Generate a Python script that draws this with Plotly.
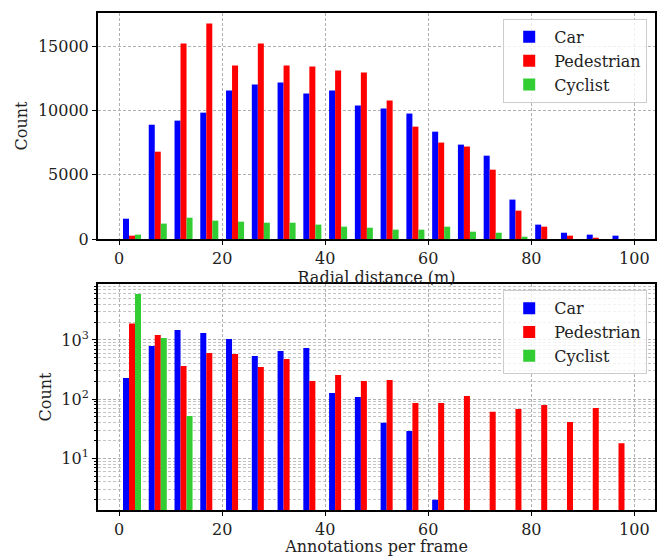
import plotly.graph_objects as go
from plotly.subplots import make_subplots

# Bin centres (bins of width 5 m / 5 annotations)
bins = [2.5, 7.5, 12.5, 17.5, 22.5, 27.5, 32.5, 37.5, 42.5, 47.5,
        52.5, 57.5, 62.5, 67.5, 72.5, 77.5, 82.5, 87.5, 92.5, 97.5]

# Top: radial distance histogram counts
dist_car = [1580, 8900, 9220, 9840, 11560, 12030, 12180, 11330, 11560, 10390,
            10160, 9770, 8360, 7350, 6490, 3070, 1120, 490, 340, 260]
dist_ped = [260, 6800, 15220, 16780, 13510, 15220, 13510, 13430, 13120, 12960,
            10780, 8750, 7510, 7200, 5400, 2210, 960, 260, 100, 0]
dist_cyc = [340, 1200, 1660, 1430, 1350, 1270, 1270, 1120, 960, 880,
            730, 730, 960, 570, 490, 180, 0, 0, 0, 0]

# Bottom: annotations per frame histogram counts (log scale)
ann_car = [228, 790, 1475, 1310, 1040, 537, 652, 733, 127, 109,
           40, 29, 2, None, None, None, None, None, None, None]
ann_ped = [1890, 1215, 364, 603, 580, 350, 477, 203, 256, 203,
           211, 86, 86, 113, 61, 68, 80, 41, 71, 18]
ann_cyc = [5990, 1080, 52, None, None, None, None, None, None, None,
           None, None, None, None, None, None, None, None, None, None]

x_ticks = [0, 20, 40, 60, 80, 100]
top_y_ticks = [0, 5000, 10000, 15000]
top_y_text = ["0", "5000", "10000", "15000"]
log_ticks = [10, 100, 1000]
log_text = ["10<sup>1</sup>", "10<sup>2</sup>", "10<sup>3</sup>"]
log_minor = [m * d for d in (1, 10, 100, 1000) for m in range(2, 10)]

names = ["Car", "Pedestrian", "Cyclist"]
colors = ["#0000ff", "#ff0000", "#32cd32"]

FONT = "DejaVu Serif"
TXT = "#222222"

fig = make_subplots(rows=2, cols=1, vertical_spacing=0.0905)

for name, col, vals in zip(names, colors, [dist_car, dist_ped, dist_cyc]):
    fig.add_trace(go.Bar(x=bins, y=vals, name=name, marker=dict(color=col, line=dict(width=0)),
                         legend="legend"), row=1, col=1)
for name, col, vals in zip(names, colors, [ann_car, ann_ped, ann_cyc]):
    fig.add_trace(go.Bar(x=bins, y=vals, name=name, marker=dict(color=col, line=dict(width=0)),
                         legend="legend2"), row=2, col=1)

grid = dict(showgrid=True, gridcolor="#b0b0b0", griddash="3px,2px", gridwidth=1,
            showline=True, linecolor="black", linewidth=2, mirror=True,
            ticks="outside", ticklen=4, tickcolor="black", zeroline=False,
            automargin=False,
            tickfont=dict(family=FONT, size=16, color=TXT))

fig.update_xaxes(range=[-4.1, 104], tickvals=x_ticks, **grid)
fig.update_xaxes(title=dict(text="Radial distance (m)", font=dict(family=FONT, size=16, color=TXT),
                            standoff=1), row=1, col=1)
fig.update_xaxes(title=dict(text="Annotations per frame", font=dict(family=FONT, size=16, color=TXT),
                            standoff=1), row=2, col=1)

fig.update_yaxes(range=[0, 17600], tickvals=top_y_ticks, ticktext=top_y_text,
                 title=dict(text="Count", font=dict(family=FONT, size=16, color=TXT), standoff=6),
                 row=1, col=1, **grid)
fig.update_yaxes(type="log", range=[0.127, 3.946], tickvals=log_ticks, ticktext=log_text,
                 minor=dict(tickvals=log_minor, ticks="outside", ticklen=2, tickcolor="black",
                            showgrid=True, gridcolor="#c4c4c4", griddash="3px,2px", gridwidth=1),
                 title=dict(text="Count", font=dict(family=FONT, size=16, color=TXT), standoff=6),
                 row=2, col=1, **grid)

fig.update_layout(
    width=669, height=556,
    margin=dict(l=98, r=14, t=13, b=46),
    barmode="group", bargap=0.3, bargroupgap=0,
    plot_bgcolor="white", paper_bgcolor="white",
    font=dict(family=FONT, size=16, color=TXT),
    legend=dict(x=0.986, y=0.988, xanchor="right", yanchor="top",
                bgcolor="rgba(255,255,255,0.8)", bordercolor="#cccccc", borderwidth=1,
                font=dict(family=FONT, size=16, color=TXT), itemwidth=40, tracegroupgap=0),
    legend2=dict(x=0.986, y=0.442, xanchor="right", yanchor="top",
                 bgcolor="rgba(255,255,255,0.8)", bordercolor="#cccccc", borderwidth=1,
                 font=dict(family=FONT, size=16, color=TXT), itemwidth=40, tracegroupgap=0),
)

# remove the default 8px page margin so the figure fills the 669x556 window exactly
fig.write_html("out.html", config={"displayModeBar": False},
               post_script="document.body.style.margin='0';")
